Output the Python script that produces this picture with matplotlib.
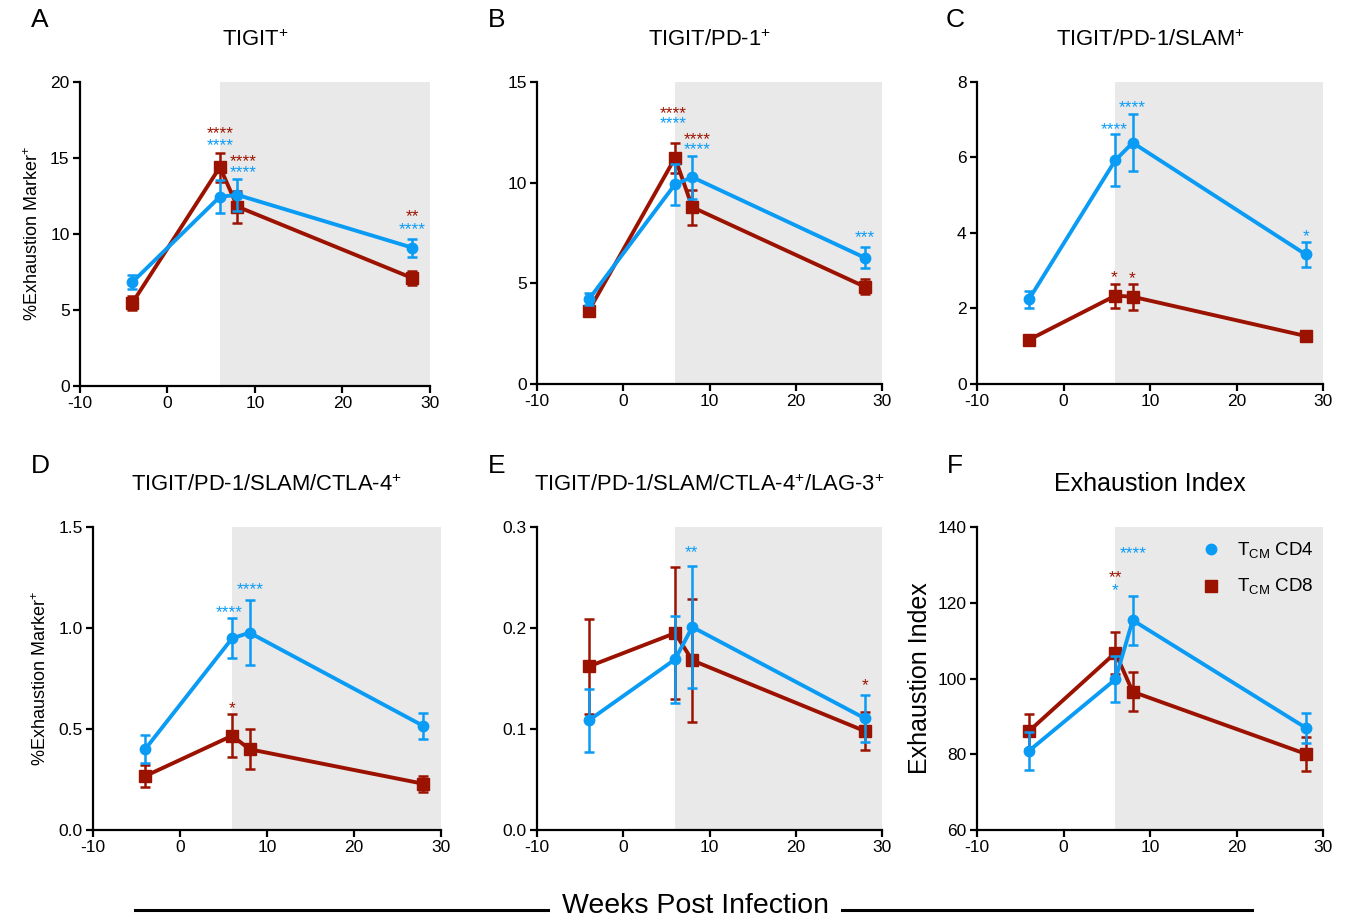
import numpy as np
import matplotlib
matplotlib.use('Agg')
import matplotlib.pyplot as plt
import matplotlib.transforms as mtransforms
from matplotlib.lines import Line2D

plt.rcParams['font.family'] = ['Liberation Sans', 'DejaVu Sans']
plt.rcParams['mathtext.fontset'] = 'custom'
plt.rcParams['mathtext.rm'] = 'Liberation Sans'
plt.rcParams['axes.unicode_minus'] = False

# colours
cd4Color = '#0A9BF5'
cd8Color = '#9B1300'
shadeColor = '#E9E9E9'

# data (weeks post infection)
weeks = [-4, 6, 8, 28]

cd4_tigit = [6.84, 12.45, 12.57, 9.1]
cd4_tigit_err = [0.45, 1.1, 1.07, 0.6]
cd8_tigit = [5.48, 14.4, 11.8, 7.1]
cd8_tigit_err = [0.45, 0.96, 1.05, 0.46]

cd4_pd1 = [4.2, 9.92, 10.27, 6.27]
cd4_pd1_err = [0.3, 1.03, 1.07, 0.52]
cd8_pd1 = [3.64, 11.23, 8.78, 4.83]
cd8_pd1_err = [0.2, 0.76, 0.86, 0.37]

cd4_slam = [2.24, 5.93, 6.39, 3.43]
cd4_slam_err = [0.23, 0.68, 0.76, 0.33]
cd8_slam = [1.17, 2.34, 2.31, 1.27]
cd8_slam_err = [0.1, 0.32, 0.34, 0.12]

cd4_ctla4 = [0.40, 0.949, 0.977, 0.515]
cd4_ctla4_err = [0.07, 0.099, 0.16, 0.064]
cd8_ctla4 = [0.267, 0.467, 0.40, 0.229]
cd8_ctla4_err = [0.055, 0.107, 0.098, 0.041]

cd4_lag3 = [0.1086, 0.169, 0.201, 0.1106]
cd4_lag3_err = [0.031, 0.043, 0.06, 0.023]
cd8_lag3 = [0.162, 0.195, 0.168, 0.098]
cd8_lag3_err = [0.047, 0.065, 0.061, 0.019]

cd4_index = [80.9, 99.8, 115.4, 87.0]
cd4_index_err = [5.1, 6.1, 6.5, 3.9]
cd8_index = [86.1, 106.8, 96.5, 80.1]
cd8_index_err = [4.6, 5.5, 5.2, 4.5]

# significance stars: (x, y, text, series)
stars_A = [(6, 16.8, '****', 'cd8'), (6, 16.05, '****', 'cd4'),
           (8.7, 15.0, '****', 'cd8'), (8.7, 14.28, '****', 'cd4'),
           (28, 11.4, '**', 'cd8'), (28, 10.5, '****', 'cd4')]
stars_B = [(5.8, 13.6, '****', 'cd8'), (5.8, 13.08, '****', 'cd4'),
           (8.55, 12.33, '****', 'cd8'), (8.55, 11.79, '****', 'cd4'),
           (28, 7.45, '***', 'cd4')]
stars_C = [(5.87, 6.82, '****', 'cd4'), (7.9, 7.42, '****', 'cd4'),
           (5.87, 2.9, '*', 'cd8'), (7.9, 2.87, '*', 'cd8'),
           (28, 3.99, '*', 'cd4')]
stars_D = [(5.67, 1.093, '****', 'cd4'), (8.05, 1.205, '****', 'cd4'),
           (6.0, 0.619, '*', 'cd8')]
stars_E = [(7.86, 0.278, '**', 'cd4'), (28, 0.146, '*', 'cd8')]
stars_F = [(8.07, 133.9, '****', 'cd4'), (6.0, 127.6, '**', 'cd8'),
           (6.0, 124.1, '*', 'cd4')]

panels = [
    ('A', 'TIGIT$^{+}$', cd4_tigit, cd4_tigit_err, cd8_tigit, cd8_tigit_err, (0, 20), [0, 5, 10, 15, 20], stars_A),
    ('B', 'TIGIT/PD-1$^{+}$', cd4_pd1, cd4_pd1_err, cd8_pd1, cd8_pd1_err, (0, 15), [0, 5, 10, 15], stars_B),
    ('C', 'TIGIT/PD-1/SLAM$^{+}$', cd4_slam, cd4_slam_err, cd8_slam, cd8_slam_err, (0, 8), [0, 2, 4, 6, 8], stars_C),
    ('D', 'TIGIT/PD-1/SLAM/CTLA-4$^{+}$', cd4_ctla4, cd4_ctla4_err, cd8_ctla4, cd8_ctla4_err, (0, 1.5), [0.0, 0.5, 1.0, 1.5], stars_D),
    ('E', 'TIGIT/PD-1/SLAM/CTLA-4$^{+}$/LAG-3$^{+}$', cd4_lag3, cd4_lag3_err, cd8_lag3, cd8_lag3_err, (0, 0.3), [0.0, 0.1, 0.2, 0.3], stars_E),
    ('F', 'Exhaustion Index', cd4_index, cd4_index_err, cd8_index, cd8_index_err, (60, 140), [60, 80, 100, 120, 140], stars_F),
]

# axes rectangles in figure fractions
axesRects = [
    [0.0595, 0.580, 0.260, 0.3308],
    [0.3993, 0.5822, 0.2565, 0.3286],
    [0.7264, 0.5822, 0.2573, 0.3286],
    [0.0691, 0.0968, 0.2587, 0.3297],
    [0.3993, 0.0968, 0.2565, 0.3297],
    [0.7264, 0.0968, 0.2573, 0.3297],
]
letterPos = [(40, 20), (497, 20), (955, 20), (40, 466), (497, 466), (955, 466)]

W, H = 1345, 919
fig = plt.figure(figsize=(W / 100, H / 100), dpi=100)

for i, (letter, title, v4, e4, v8, e8, ylim, yticks, stars) in enumerate(panels):
    ax = fig.add_axes(axesRects[i])
    ax.axvspan(6, 30, color=shadeColor, lw=0, zorder=0)
    ax.errorbar(weeks, v8, yerr=e8, color=cd8Color, marker='s', ms=8, lw=2.8,
                elinewidth=1.8, capsize=3.8, capthick=1.8, zorder=3, clip_on=False)
    ax.errorbar(weeks, v4, yerr=e4, color=cd4Color, marker='o', ms=7.5, lw=2.8,
                elinewidth=1.8, capsize=3.8, capthick=1.8, zorder=4, clip_on=False)
    # asterisks sit high in the glyph box, nudge them down a little
    starTrans = mtransforms.offset_copy(ax.transData, fig=fig, y=-2.5, units='points')
    for (sx, sy, st, ser) in stars:
        ax.text(sx, sy, st, color=cd4Color if ser == 'cd4' else cd8Color,
                ha='center', va='center', fontsize=12.5, transform=starTrans)
    ax.set_xlim(-10, 30)
    ax.set_ylim(*ylim)
    ax.set_xticks([-10, 0, 10, 20, 30])
    ax.set_yticks(yticks)
    for s in ['top', 'right']:
        ax.spines[s].set_visible(False)
    for s in ['left', 'bottom']:
        ax.spines[s].set_linewidth(1.6)
    ax.tick_params(direction='out', width=1.6, length=5, labelsize=12.5, pad=2.5)
    if letter == 'F':
        ax.set_title(title, fontsize=18, pad=26)
        ax.set_ylabel('Exhaustion Index', fontsize=18, labelpad=4)
        handles = [Line2D([], [], color=cd4Color, marker='o', ls='none', ms=7.5),
                   Line2D([], [], color=cd8Color, marker='s', ls='none', ms=8)]
        ax.legend(handles, [r'T$_{\mathrm{CM}}$ CD4', r'T$_{\mathrm{CM}}$ CD8'],
                  loc='upper left', bbox_to_anchor=(0.572, 1.01), frameon=False,
                  fontsize=13.5, handletextpad=0.4, labelspacing=0.85)
    else:
        ax.set_title(title, fontsize=15.8, pad=26)
    if letter in ('A', 'D'):
        ax.set_ylabel('%Exhaustion Marker$^{+}$', fontsize=13, labelpad=6)
    fig.text(letterPos[i][0] / W, 1 - letterPos[i][1] / H, letter,
             ha='center', va='center', fontsize=19)

# shared x label with rules
fig.text(695 / W, 1 - 906 / H, 'Weeks Post Infection', ha='center', va='center', fontsize=20.5)
fig.add_artist(Line2D([135 / W, 548 / W], [1 - 910 / H, 1 - 910 / H], color='k', lw=2.2))
fig.add_artist(Line2D([842 / W, 1252 / W], [1 - 910 / H, 1 - 910 / H], color='k', lw=2.2))

fig.savefig('out.png', dpi=100)
